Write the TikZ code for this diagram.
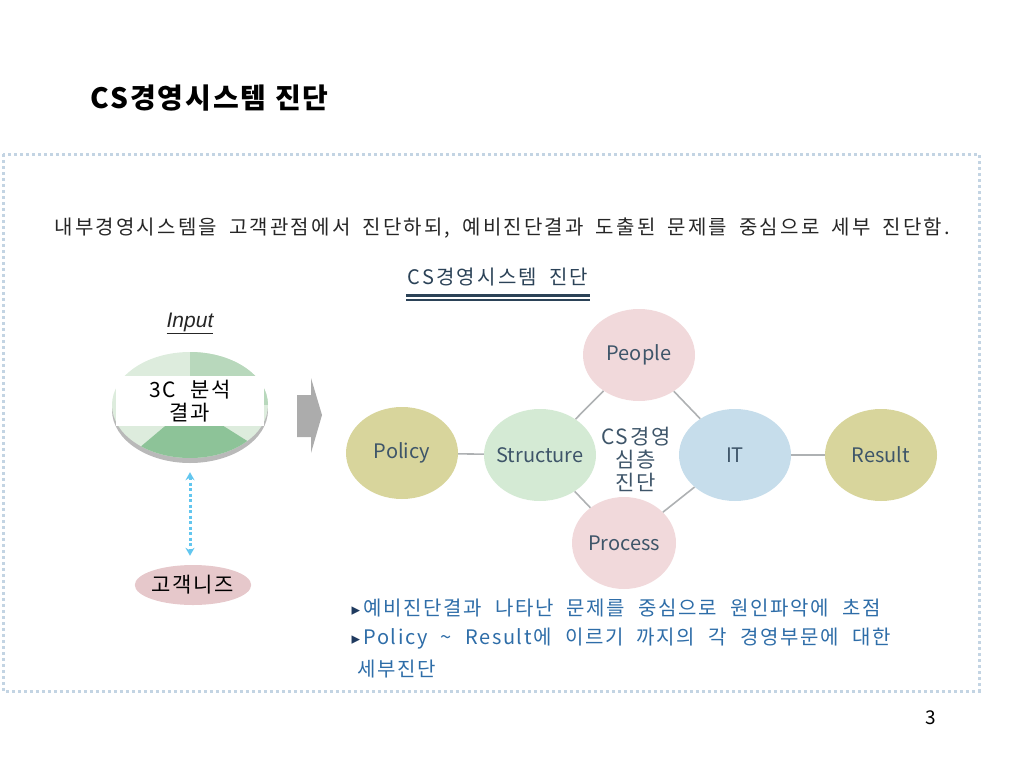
\documentclass[tikz,border=0pt]{standalone}
\usepackage{fontspec}
\setmainfont{Noto Sans CJK KR}
\newfontfamily\kranchoa[LetterSpace=11,WordSpace=1.8]{Noto Sans CJK KR}
\newfontfamily\kranchob[LetterSpace=8,WordSpace=2.2]{Noto Sans CJK KR}
\newfontfamily\krtitulo[LetterSpace=7]{Noto Sans CJK KR}
\newfontfamily\lat{Liberation Sans}
\newfontfamily\simbolo{DejaVu Sans}
\usetikzlibrary{positioning,shapes.geometric,arrows.meta}
\definecolor{marco}{HTML}{C3D4E3}
\definecolor{rosa}{HTML}{F1D9DB}
\definecolor{oliva}{HTML}{D8D59C}
\definecolor{verde}{HTML}{D4EAD4}
\definecolor{celeste}{HTML}{C6DDEB}
\definecolor{tinta}{HTML}{3E5569}
\definecolor{gris}{HTML}{AEB1B3}
\definecolor{rosaosc}{HTML}{E6C8CB}
\definecolor{azultexto}{HTML}{2E6DA8}
\definecolor{marino}{HTML}{1F3A5F}
\definecolor{subt}{HTML}{2B4257}
\definecolor{vclaro}{HTML}{DDECDD}
\definecolor{vmedio}{HTML}{B8D8BC}
\definecolor{voscuro}{HTML}{8DC398}
\definecolor{celestef}{HTML}{62C6EF}
\begin{document}
\begin{tikzpicture}[x=1pt,y=-1pt,
    circulo/.style={ellipse, minimum width=112pt, minimum height=92pt, inner sep=0pt,
      inner xsep=-14pt, text=tinta, font=\fontsize{20}{23}\selectfont},
    conector/.style={draw=gris, line width=1.6pt},
    flecha/.style={celestef, line width=3pt, dash pattern=on 3pt off 2.5pt,
      {Stealth[length=8pt,width=9pt]}-{Stealth[length=8pt,width=9pt]}},
    vineta/.style={anchor=west, text=azultexto, font=\kranchob\fontsize{20}{23}\selectfont}]
  \useasboundingbox (0,0) rectangle (1024,768);

  % Titulo
  \node[anchor=west, font=\krtitulo\fontsize{28}{32}\selectfont\bfseries] (titulo) at (87,98) {CS경영시스템 진단};

  % Marco punteado
  \draw[marco, line width=3pt, dash pattern=on 3pt off 3pt] (3,154) rectangle (979,691);

  % Frase
  \node[anchor=west, text=black!85, font=\kranchoa\fontsize{20}{23}\selectfont] (frase) at (51,228)
    {내부경영시스템을 고객관점에서 진단하되, 예비진단결과 도출된 문제를 중심으로 세부 진단함.};

  % Subtitulo
  \node[text=subt, font=\kranchoa\fontsize{20}{23}\selectfont] (sub) at (498,277) {CS경영시스템 진단};
  \draw[subt, line width=3pt] (406,295) -- (590,295);
  \draw[subt, line width=1.2pt] (406,300) -- (590,300);

  % Circulos
  \node[circulo, fill=rosa] (people) at (639,355) {People};
  \node[circulo, fill=oliva] (policy) at (402,453) {Policy};
  \node[circulo, fill=verde] (structure) at (540,455) {Structure};
  \node[circulo, fill=celeste] (it) at (735,455) {IT};
  \node[circulo, fill=oliva] (result) at (881,455) {Result};
  \node[circulo, fill=rosa, minimum width=104pt] (process) at (624,543) {Process};
  \node[text=tinta, align=center, font=\kranchob\fontsize{21}{23}\selectfont] (centro) at (636,459) {CS경영\\심층\\진단};

  % Conexiones
  \draw[conector] (policy) -- (structure);
  \draw[conector] (it) -- (result);
  \draw[conector] (structure) -- (people);
  \draw[conector] (people) -- (it);
  \draw[conector] (it) -- (process);
  \draw[conector] (process) -- (structure);

  % Disco de entrada
  \node[font=\lat\itshape\fontsize{21}{23}\selectfont, text=black!85] (input) at (190,323) {\underline{Input}};
  \fill[gray!55] (190,410) ellipse [x radius=78pt, y radius=53pt];
  \node[ellipse, minimum width=156pt, minimum height=106pt, inner sep=0pt] (disco) at (190,405) {};
  \begin{scope}
    \clip (190,405) ellipse [x radius=78pt, y radius=53pt];
    \fill[vclaro] (100,340) rectangle (280,470);
    \fill[vmedio] (190,405) -- (190,340) -- (280,340) -- (280,405) -- cycle;
    \fill[voscuro] (190,405) -- (100,481) -- (311,481) -- cycle;
  \end{scope}
  \node[fill=white, minimum width=148pt, minimum height=50pt, align=center,
    font=\kranchob\fontsize{21}{23}\selectfont] (res3c) at (190,401) {3C 분석\\결과};

  % Necesidades del cliente
  \node[ellipse, fill=rosaosc, minimum width=116pt, minimum height=40pt, inner sep=0pt,
    font=\kranchob\fontsize{21}{23}\selectfont] (needs) at (193,585) {고객니즈};
  \draw[flecha, shorten <=14pt, shorten >=9pt] (disco.south) -- (disco.south |- needs.north);

  % Flecha gris
  \fill[gray!65] (297,395) -- (311,395) -- (311,378) -- (322,415) -- (311,453) -- (311,437) -- (297,437) -- cycle;

  % Vinetas
  \node[vineta] (v1) at (348,608) {{\simbolo\color{marino}\fontsize{17}{19}\selectfont ▸}\,예비진단결과 나타난 문제를 중심으로 원인파악에 초점};
  \node[vineta] (v2) at (348,639) {{\simbolo\color{marino}\fontsize{17}{19}\selectfont ▸}\,Policy \textasciitilde{} Result에 이르기 까지의 각 경영부문에 대한};
  \node[vineta] (v3) at (354,669) {세부진단};

  % Pagina
  \node[font=\fontsize{19}{21}\selectfont] (pag) at (931,718) {3};
\end{tikzpicture}
\end{document}
